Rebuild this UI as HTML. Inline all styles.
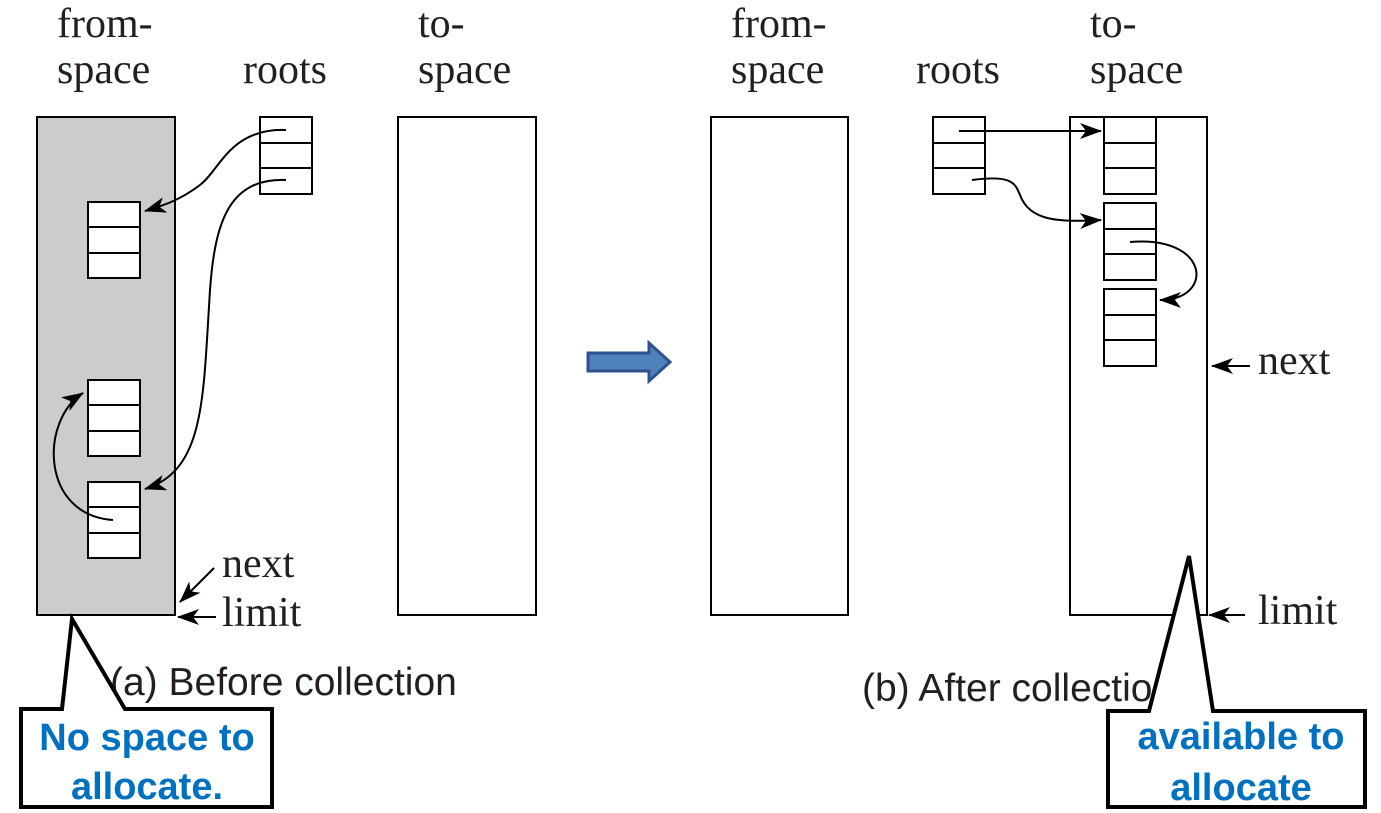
<!DOCTYPE html>
<html><head><meta charset="utf-8"><style>
html,body{margin:0;padding:0;background:#fff;}
svg{display:block;}
.lbl{font-family:"Liberation Serif",serif;font-size:42px;fill:#231f20;}
.cap{font-family:"Liberation Sans",sans-serif;font-size:39px;fill:#231f20;}
.call{font-family:"Liberation Sans",sans-serif;font-weight:bold;font-size:38px;fill:#0070c0;}
</style></head><body>
<svg width="1381" height="813" viewBox="0 0 1381 813" xmlns="http://www.w3.org/2000/svg">
<defs>
<marker id="ah" viewBox="0 0 22 16" refX="21" refY="8" markerWidth="22" markerHeight="16" markerUnits="userSpaceOnUse" orient="auto">
<path d="M0,0 L22,8 L0,16 L6,8 Z" fill="#000"/></marker>
</defs>
<g fill="none" stroke="#000" stroke-width="2">
<rect x="37" y="117" width="138" height="498" fill="#cccccc"/>
<rect x="398" y="117" width="138" height="498" fill="#fff"/>
<g fill="#fff">
<rect x="260" y="117" width="52" height="26"/><rect x="260" y="143" width="52" height="25"/><rect x="260" y="168" width="52" height="26"/></g>
<g fill="#fff">
<rect x="88" y="202" width="52" height="25"/><rect x="88" y="227" width="52" height="26"/><rect x="88" y="253" width="52" height="25"/></g>
<g fill="#fff">
<rect x="88" y="380" width="52" height="25"/><rect x="88" y="405" width="52" height="26"/><rect x="88" y="431" width="52" height="25"/></g>
<g fill="#fff">
<rect x="88" y="482" width="52" height="25"/><rect x="88" y="507" width="52" height="26"/><rect x="88" y="533" width="52" height="25"/></g>
<path d="M286,130 C230,128 220,170 200,185 C180,200 165,205 145,211" marker-end="url(#ah)"/>
<path d="M286,180 C230,178 215,220 210,290 C203,400 205,470 145,489" marker-end="url(#ah)"/>
<path d="M113,520 C40,515 40,420 83,393" marker-end="url(#ah)"/>
<path d="M214,568 L180,602" marker-end="url(#ah)"/>
<path d="M216,617 L178,617" marker-end="url(#ah)"/>
<rect x="711" y="117" width="137" height="498" fill="#fff"/>
<rect x="1070" y="117" width="137" height="498" fill="#fff"/>
<g fill="#fff">
<rect x="933" y="117" width="52" height="26"/><rect x="933" y="143" width="52" height="25"/><rect x="933" y="168" width="52" height="26"/></g>
<g fill="#fff">
<rect x="1104" y="117" width="52" height="26"/><rect x="1104" y="143" width="52" height="25"/><rect x="1104" y="168" width="52" height="26"/></g>
<g fill="#fff">
<rect x="1104" y="203" width="52" height="26"/><rect x="1104" y="229" width="52" height="25"/><rect x="1104" y="254" width="52" height="26"/></g>
<g fill="#fff">
<rect x="1104" y="289" width="52" height="26"/><rect x="1104" y="315" width="52" height="25"/><rect x="1104" y="340" width="52" height="26"/></g>
<path d="M959,131 L1101,131" marker-end="url(#ah)"/>
<path d="M972,180 C1010,175 1015,182 1020,195 C1030,222 1060,222 1101,220" marker-end="url(#ah)"/>
<path d="M1130,242 C1210,235 1215,300 1160,300" marker-end="url(#ah)"/>
<path d="M1250,366 L1212,366" marker-end="url(#ah)"/>
<path d="M1245,615 L1209,615" marker-end="url(#ah)"/>
</g>
<text class="lbl" x="57" y="37">from-</text>
<text class="lbl" x="57" y="83">space</text>
<text class="lbl" x="243" y="83">roots</text>
<text class="lbl" x="418" y="37">to-</text>
<text class="lbl" x="418" y="83">space</text>
<text class="lbl" x="222" y="577">next</text>
<text class="lbl" x="222" y="626">limit</text>
<text class="lbl" x="731" y="37">from-</text>
<text class="lbl" x="731" y="83">space</text>
<text class="lbl" x="916" y="83">roots</text>
<text class="lbl" x="1090" y="37">to-</text>
<text class="lbl" x="1090" y="83">space</text>
<text class="lbl" x="1258" y="374">next</text>
<text class="lbl" x="1258" y="624">limit</text>
<text class="cap" x="110" y="695">(a) Before collection</text>
<text class="cap" x="862" y="701">(b) After collectio</text>
<path d="M588,353 L649,353 L649,343 L670,362 L649,381 L649,371 L588,371 Z" fill="#4f81bd" stroke="#2f528f" stroke-width="3"/>
<path d="M21,709 L62,709 L72,619 L125,709 L272,709 L272,807 L21,807 Z" fill="#fff" stroke="#000" stroke-width="4" stroke-linejoin="miter"/>
<text class="call" x="147" y="750" text-anchor="middle">No space to</text>
<text class="call" x="147" y="799" text-anchor="middle">allocate.</text>
<path d="M1108,711 L1149,711 L1189,556 L1213,711 L1365,711 L1365,807 L1108,807 Z" fill="#fff" stroke="#000" stroke-width="4" stroke-linejoin="miter"/>
<text class="call" x="1241" y="749" text-anchor="middle">available to</text>
<text class="call" x="1241" y="800" text-anchor="middle">allocate</text>
</svg>
</body></html>
